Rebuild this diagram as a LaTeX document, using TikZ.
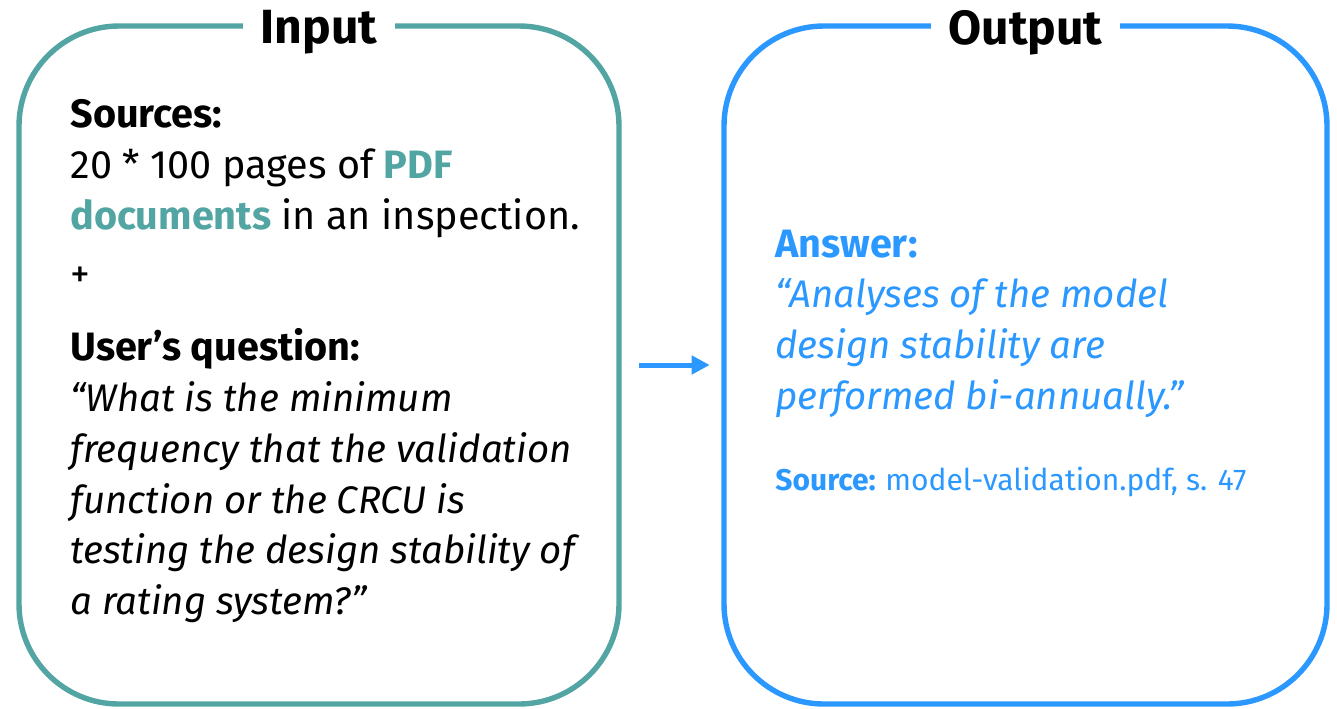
\documentclass[tikz,border=0pt]{standalone}
\usepackage{fontspec}
\setmainfont{Fira Sans}
\usetikzlibrary{positioning,arrows.meta}
\definecolor{inteal}{HTML}{52A5A3}
\definecolor{outblue}{HTML}{2B98FF}
\tikzset{
    box/.style = {
        draw,
        shape=rectangle,
        rounded corners=50pt,
        minimum height=339pt,
        line width=2.7pt,
        inner sep=0pt
    },
    title/.style = {
        fill=white,
        inner xsep=9pt,
        inner ysep=2pt,
        yshift=-4.5pt,
        font=\fontsize{24}{28}\selectfont\bfseries
    },
    txt/.style = {
        anchor=base west,
        inner sep=0pt,
        font=\fontsize{19.8}{24}\selectfont
    },
    quote/.style = {
        anchor=base west,
        inner sep=0pt,
        font=\fontsize{19.2}{24}\selectfont\itshape
    },
    small/.style = {
        anchor=base west,
        inner sep=0pt,
        font=\fontsize{15}{18}\selectfont
    },
    >={Triangle[length=9pt,width=9pt]},
}

\begin{document}
\begin{tikzpicture}[x=0.5pt,y=-0.5pt]
            \useasboundingbox (0,0) rectangle (1337,708);

            \node[box, inteal, minimum width=300pt] (inbox) at (319,365) {};
            \node[box, outblue, minimum width=301.5pt] (outbox) at (1025.5,365) {};

            \node[title] (intitle) at (inbox.north) {Input};
            \node[title] (outtitle) at (outbox.north) {Output};

            \node[txt] (src1) at (70,127) {\bfseries Sources:};
            \node[txt] (src2) at (70,178) {20 * 100 pages of \textcolor{inteal}{\bfseries PDF}};
            \node[txt] (src3) at (70,229) {\textcolor{inteal}{\bfseries documents} in an inspection.};
            \node[txt] (plus) at (70,287) {+};
            \node[txt] (quest) at (70,360) {\bfseries User’s question:};
            \node[quote] (q1) at (70,411) {“What is the minimum};
            \node[quote] (q2) at (70,462) {frequency that the validation};
            \node[quote] (q3) at (70,513) {function or the CRCU is};
            \node[quote] (q4) at (70,563) {testing the design stability of};
            \node[quote] (q5) at (70,614) {a rating system?”};

            \node[txt, outblue] (ans) at (775,257) {\bfseries Answer:};
            \node[quote, outblue] (a1) at (775,307) {“Analyses of the model};
            \node[quote, outblue] (a2) at (775,358) {design stability are};
            \node[quote, outblue] (a3) at (775,409) {performed bi-annually.”};
            \node[small, outblue] (srcref) at (775,490) {\bfseries Source: \mdseries model-validation.pdf, s. 47};

            \path[draw, ->, outblue, line width=2.5pt, shorten <=8.7pt, shorten >=5.8pt] (inbox) -- (outbox);

        \end{tikzpicture}
\end{document}
